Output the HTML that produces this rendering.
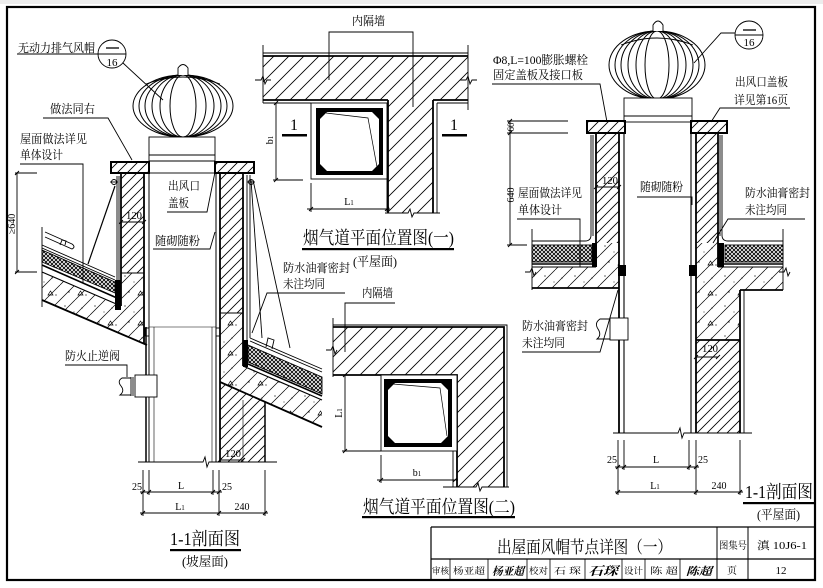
<!DOCTYPE html>
<html><head><meta charset="utf-8">
<style>
html,body{margin:0;padding:0;background:#fff;}
svg{display:block;}
text{font-family:"Liberation Serif","Noto Serif CJK SC","Noto Sans CJK SC",serif;fill:#000;}
</style></head><body>
<svg width="823" height="588" viewBox="0 0 823 588" xmlns="http://www.w3.org/2000/svg">
<defs>
<pattern id="h" width="10" height="10" patternUnits="userSpaceOnUse"><path d="M0,10L10,0M-2,2L2,-2M8,12L12,8" stroke="#000" stroke-width="0.85"/></pattern>
<pattern id="hp" width="15" height="15" patternUnits="userSpaceOnUse"><path d="M0,15L15,0M-2,2L2,-2M13,17L17,13" stroke="#000" stroke-width="0.85"/></pattern>
<pattern id="c" width="30" height="30" patternUnits="userSpaceOnUse"><path d="M0,15L15,0M0,30L30,0M15,30L30,15M-2,2L2,-2M28,32L32,28" stroke="#000" stroke-width="0.7"/><g fill="#000"><circle cx="5" cy="6" r="0.6"/><circle cx="22" cy="8" r="0.6"/><circle cx="9" cy="22" r="0.6"/><circle cx="26" cy="25" r="0.6"/><circle cx="14" cy="12" r="0.5"/></g><path d="M18,25l5,0l-2.5,-4z" fill="none" stroke="#000" stroke-width="0.7"/></pattern>
<pattern id="x" width="4" height="4" patternUnits="userSpaceOnUse"><path d="M0,0L4,4M4,0L0,4" stroke="#000" stroke-width="0.9"/></pattern>
</defs>

<rect x="0" y="0" width="823" height="4" fill="#ececec"/>
<!-- frame -->
<rect x="7" y="7" width="808" height="573" fill="none" stroke="#000" stroke-width="2.2"/>

<!-- ================= LEFT SECTION ================= -->
<g stroke="#000" fill="none" stroke-width="0.9">
<!-- globe -->
<g stroke-width="1">
<ellipse cx="183" cy="106" rx="50" ry="31"/>
<ellipse cx="183" cy="106" rx="44" ry="31"/>
<ellipse cx="183" cy="106" rx="38" ry="31"/>
<ellipse cx="183" cy="106" rx="31" ry="31"/>
<ellipse cx="183" cy="106" rx="23" ry="31"/>
<ellipse cx="183" cy="106" rx="13" ry="31"/>
</g>
<path d="M146,84 Q183,70 220,84"/>
<path d="M178,75 V68 Q183,61 188,68 V75" fill="#fff"/>
<rect x="149" y="137" width="66" height="36" fill="#fff"/>
<path d="M149,155H215M149,161H215"/>
<!-- plates -->
<rect x="111" y="162" width="38" height="11" fill="url(#h)" stroke-width="2"/>
<rect x="215" y="162" width="39" height="11" fill="url(#h)" stroke-width="2"/>
<!-- walls fills -->
<rect x="121" y="173" width="23" height="100" fill="url(#h)" stroke="none"/>
<polygon points="42,272 121,306 121,273 144,273 144,344 42,300" fill="url(#c)" stroke="none"/>
<rect x="220" y="173" width="23" height="140" fill="url(#h)" stroke="none"/>
<polygon points="220,313 243,313 243,366 322,400 322,427 220,382" fill="url(#c)" stroke="none"/>
<polygon points="220,382 265,402 265,462 220,462" fill="url(#h)" stroke="none"/>
<!-- wall outlines -->
<line x1="121" y1="173" x2="121" y2="306" stroke-width="1.8"/>
<line x1="144" y1="173" x2="144" y2="344" stroke-width="1.8"/>
<line x1="121" y1="273" x2="144" y2="273"/>
<line x1="42" y1="272" x2="121" y2="306" stroke-width="1.2"/>
<line x1="42" y1="300" x2="147" y2="345" stroke-width="1.8"/>
<line x1="220" y1="173" x2="220" y2="462" stroke-width="1.8"/>
<line x1="243" y1="173" x2="243" y2="366" stroke-width="1.8"/>
<line x1="220" y1="313" x2="243" y2="313"/>
<line x1="243" y1="366" x2="322" y2="400" stroke-width="1.2"/>
<line x1="220" y1="382" x2="322" y2="427" stroke-width="1.8"/>
<line x1="265" y1="402" x2="265" y2="462" stroke-width="1.5"/>
<line x1="243" y1="400" x2="243" y2="462" stroke-width="0.6"/>
<!-- left roof -->
<line x1="42" y1="227" x2="42" y2="307"/>
<path d="M45,232 L72,244 Q76,247 72,249 L45,237"/>
<path d="M60,245 l2,-5 l4,1 l-1,4"/>
<line x1="42" y1="245" x2="115" y2="277"/>
<line x1="42" y1="248" x2="115" y2="280"/>
<polygon points="42,250 115,282 115,293 42,262" fill="url(#x)"/>
<line x1="42" y1="265" x2="117" y2="298" stroke-width="1.6"/>
<rect x="115" y="280" width="6" height="30" fill="#000" stroke="none"/>
<path d="M117,176 V280"/>
<path d="M119,176 V281 Q119,287 113,285"/>
<circle cx="114" cy="182" r="2.5"/><path d="M110,182h8"/>
<circle cx="251" cy="182" r="2.5"/><path d="M247,182h8"/>
<line x1="115" y1="186" x2="88" y2="264" stroke-width="1.2"/>
<!-- right roof -->
<line x1="247" y1="175" x2="247" y2="340"/>
<line x1="250" y1="175" x2="250" y2="338"/>
<line x1="250" y1="338" x2="322" y2="369"/>
<line x1="250" y1="341" x2="322" y2="372"/>
<polygon points="248,345 322,377 322,394 248,362" fill="url(#x)"/>
<line x1="248" y1="364" x2="322" y2="396" stroke-width="1.6"/>
<rect x="243" y="340" width="5" height="27" fill="#000" stroke="none"/>
<path d="M266,347 l2,-9 l6,2 l-2,9"/>
<line x1="251" y1="180" x2="262" y2="338"/>
<line x1="253" y1="180" x2="290" y2="348"/>
<polyline points="345,293 267,293 252,333"/>
<!-- lower flue -->
<line x1="146" y1="327" x2="146" y2="462" stroke-width="1.5"/>
<line x1="149" y1="173" x2="149" y2="462" stroke-width="1"/>
<line x1="154" y1="327" x2="154" y2="462" stroke-width="0.6"/>
<line x1="212" y1="327" x2="212" y2="462" stroke-width="0.6"/>
<line x1="216" y1="173" x2="216" y2="462" stroke-width="1"/>
<line x1="149" y1="327" x2="216" y2="327" stroke-width="0.6"/>
<rect x="145" y="328" width="4" height="8"/>
<rect x="216" y="328" width="4" height="8"/>
<!-- damper -->
<rect x="135" y="375" width="22" height="22" fill="#fff"/>
<path d="M131,377 V396 M133,377 V396"/>
<path d="M131,378 H122 Q117,381 121,386 Q125,391 120,395 H131"/>
<!-- ground -->
<path d="M138,462 H203 L205,457 L207,467 L209,462 H277"/>
<!-- dims -->
<path d="M143,470V516M149,470V495M213,470V495M219,470V516M265,470V516"/>
<path d="M140,492H222M140,513H268"/>
<path d="M141,494l4,-4M147,494l4,-4M211,494l4,-4M217,494l4,-4M141,515l4,-4M217,515l4,-4M263,515l4,-4" stroke-width="1"/>
<path d="M121,222H144M119,224l4,-4M142,224l4,-4"/>
<path d="M220,460H243M218,462l4,-4M241,462l4,-4"/>
<path d="M17,173V272M15,173H37M15,272H37M15,175l4,-4M15,274l4,-4"/>
<!-- leaders -->
<path d="M17,54H98"/>
<circle cx="112" cy="54" r="14" fill="#fff"/>
<path d="M98,54H126"/>
<path d="M106,48H119" stroke-width="1.3"/>
<path d="M123,63 L163,100"/>
<path d="M43,118H108L132,160"/>
<path d="M20,164H83V283"/>
<path d="M167,212H207L215,172"/>
<path d="M153,249H210L215,232"/>
<path d="M65,365H127V377"/>
</g>
<g font-size="12">
<text x="18" y="52" textLength="77" lengthAdjust="spacingAndGlyphs">无动力排气风帽</text>
<text x="112" y="66" font-size="11" text-anchor="middle">16</text>
<text x="50" y="113" textLength="45" lengthAdjust="spacingAndGlyphs">做法同右</text>
<text x="20" y="143" textLength="67" lengthAdjust="spacingAndGlyphs">屋面做法详见</text>
<text x="20" y="159" textLength="43" lengthAdjust="spacingAndGlyphs">单体设计</text>
<text x="168" y="190" textLength="32" lengthAdjust="spacingAndGlyphs">出风口</text>
<text x="168" y="207" textLength="21" lengthAdjust="spacingAndGlyphs">盖板</text>
<text x="155" y="245" textLength="45" lengthAdjust="spacingAndGlyphs">随砌随粉</text>
<text x="65" y="360" textLength="55" lengthAdjust="spacingAndGlyphs">防火止逆阀</text>
<text x="283" y="272" textLength="67" lengthAdjust="spacingAndGlyphs">防水油膏密封</text>
<text x="283" y="288" textLength="42" lengthAdjust="spacingAndGlyphs">未注均同</text>
<text x="126" y="219" font-size="10" textLength="16" lengthAdjust="spacingAndGlyphs">120</text>
<text x="225" y="457" font-size="10" textLength="16" lengthAdjust="spacingAndGlyphs">120</text>
<text transform="translate(15,224) rotate(-90)" font-size="10" text-anchor="middle">≥640</text>
<text x="132" y="490" font-size="10">25</text>
<text x="181" y="489" font-size="10" text-anchor="middle">L</text>
<text x="222" y="490" font-size="10">25</text>
<text x="180" y="510" font-size="10" text-anchor="middle">L<tspan font-size="7">1</tspan></text>
<text x="242" y="510" font-size="10" text-anchor="middle">240</text>
<text x="170" y="545" font-size="18" textLength="70" lengthAdjust="spacingAndGlyphs">1-1剖面图</text>
<text x="182" y="566" font-size="13" textLength="46" lengthAdjust="spacingAndGlyphs">(坡屋面)</text>
</g>
<rect x="170" y="549" width="71" height="2.2" fill="#000"/>

<!-- ================= PLAN (一) ================= -->
<g stroke="#000" fill="none" stroke-width="0.9">
<polygon points="263,56 468,56 468,100 433,100 433,213 388,213 388,100 263,100" fill="url(#hp)" stroke="none"/>
<path d="M263,53H468"/>
<path d="M263,56H468M263,100H388M433,100H468M388,100V213M433,100V213" stroke-width="1.8"/>
<path d="M263,103H311M437,103H468M437,103V213"/>
<path d="M263,45V103M468,45V110"/>
<path d="M255,80H261L263,76L265,84L267,80H271"/>
<path d="M460,80H466L468,76L470,84L472,80H477"/>
<rect x="311" y="103" width="76" height="76" fill="#fff"/>
<rect x="316" y="108" width="67" height="67" fill="#000" stroke="none"/>
<polygon points="327,112 372,112 379,119 379,164 372,171 327,171 320,164 320,119" fill="#fff" stroke="none"/>
<polyline points="326,113 368,118 377,167" stroke-width="0.7"/>
<path d="M276,103V180M273,180H303M274,105l4,-4M274,182l4,-4"/>
<path d="M311,183V212M387,179V212M307,209H390M309,211l4,-4M385,211l4,-4"/>
<path d="M385,213H408L410,209L412,217L414,213H440"/>
<path d="M329,80V32H413V107"/>
</g>
<rect x="282" y="134" width="25" height="2.5" fill="#000"/>
<rect x="442" y="134" width="25" height="2.5" fill="#000"/>
<g>
<text x="294" y="130" font-size="16" text-anchor="middle">1</text>
<text x="454" y="130" font-size="16" text-anchor="middle">1</text>
<text x="352" y="25" font-size="12" textLength="33" lengthAdjust="spacingAndGlyphs">内隔墙</text>
<text transform="translate(273,140) rotate(-90)" font-size="10" text-anchor="middle">b<tspan font-size="7">1</tspan></text>
<text x="349" y="205" font-size="10" text-anchor="middle">L<tspan font-size="7">1</tspan></text>
<text x="303" y="244" font-size="18" textLength="151" lengthAdjust="spacingAndGlyphs">烟气道平面位置图(一)</text>
<text x="353" y="266" font-size="13" textLength="44" lengthAdjust="spacingAndGlyphs">(平屋面)</text>
</g>
<rect x="302" y="248" width="152" height="2.2" fill="#000"/>

<!-- ================= PLAN (二) ================= -->
<g stroke="#000" fill="none" stroke-width="0.9">
<polygon points="333,327 504,327 504,487 457,487 457,375 333,375" fill="url(#hp)" stroke="none"/>
<path d="M333,325H507V487"/>
<path d="M333,327H504V487M333,375H457V487" stroke-width="1.8"/>
<path d="M453,451V487"/>
<path d="M333,318V377M326,350H331L333,346L335,354L337,350"/>
<path d="M443,487H476L478,483L480,491L482,487H509"/>
<rect x="381" y="375" width="76" height="76" fill="#fff"/>
<rect x="384" y="379" width="68" height="68" fill="#000" stroke="none"/>
<polygon points="395,383 441,383 448,390 448,436 441,443 395,443 388,436 388,390" fill="#fff" stroke="none"/>
<polyline points="393,384 440,388 447,436" stroke-width="0.7"/>
<path d="M345,375V451M342,451H381M343,377l4,-4M343,453l4,-4"/>
<path d="M381,455V483M377,480H458M379,482l4,-4M453,482l4,-4"/>
<path d="M345,352V303H395"/>
</g>
<g>
<text x="362" y="297" font-size="12" textLength="31" lengthAdjust="spacingAndGlyphs">内隔墙</text>
<text transform="translate(342,413) rotate(-90)" font-size="10" text-anchor="middle">L<tspan font-size="7">1</tspan></text>
<text x="417" y="476" font-size="10" text-anchor="middle">b<tspan font-size="7">1</tspan></text>
<text x="363" y="513" font-size="18" textLength="152" lengthAdjust="spacingAndGlyphs">烟气道平面位置图(二)</text>
</g>
<rect x="362" y="516" width="153" height="2.2" fill="#000"/>

<!-- ================= RIGHT SECTION ================= -->
<g stroke="#000" fill="none" stroke-width="0.9">
<g stroke-width="1">
<ellipse cx="657" cy="65" rx="48" ry="34"/>
<ellipse cx="657" cy="65" rx="42" ry="34"/>
<ellipse cx="657" cy="65" rx="36" ry="34"/>
<ellipse cx="657" cy="65" rx="29" ry="34"/>
<ellipse cx="657" cy="65" rx="21" ry="34"/>
<ellipse cx="657" cy="65" rx="12" ry="34"/>
</g>
<path d="M621,45 Q657,31 693,45"/>
<path d="M653,31 V25 Q658,17 663,25 V31" fill="#fff"/>
<rect x="624" y="98" width="68" height="24" fill="#fff"/>
<path d="M624,116H692"/>
<rect x="587" y="121" width="38" height="12" fill="url(#h)" stroke-width="2"/>
<rect x="691" y="121" width="36" height="12" fill="url(#h)" stroke-width="2"/>
<rect x="596" y="133" width="23" height="110" fill="url(#h)" stroke="none"/>
<rect x="696" y="133" width="22" height="110" fill="url(#h)" stroke="none"/>
<polygon points="532,267 596,267 596,243 619,243 619,288 532,288" fill="url(#c)" stroke="none"/>
<polygon points="696,243 718,243 718,267 783,267 783,290 740,290 740,340 696,340" fill="url(#c)" stroke="none"/>
<rect x="696" y="340" width="44" height="93" fill="url(#h)" stroke="none"/>
<path d="M596,133V243M619,133V433M696,133V433M718,133V267" stroke-width="1.8"/>
<path d="M624,133V433M691,133V433" stroke-width="1.1"/>
<path d="M532,288H619M740,290H783M740,290V433M696,340H740" stroke-width="1.8"/>
<path d="M744,290V433M532,267H596M718,267H783"/>
<rect x="618" y="265" width="8" height="11" fill="#000" stroke="none"/>
<rect x="689" y="265" width="8" height="11" fill="#000" stroke="none"/>
<path d="M591,135V235Q591,241 585,241H532"/>
<path d="M593,135V236"/>
<path d="M722,135V235Q722,241 728,241H783"/>
<path d="M720,135V236"/>
<rect x="532" y="245" width="60" height="17" fill="url(#x)"/>
<rect x="725" y="245" width="58" height="17" fill="url(#x)"/>
<path d="M532,264H597M718,264H783" stroke-width="1.5"/>
<rect x="592" y="243" width="5" height="24" fill="#000" stroke="none"/>
<rect x="718" y="243" width="6" height="24" fill="#000" stroke="none"/>
<path d="M532,229V290M783,229V290"/>
<path d="M525,272H530L532,268L534,276L536,272"/>
<path d="M779,272H784L786,268L788,276L790,272"/>
<!-- damper -->
<rect x="610" y="318" width="18" height="22" fill="#fff"/>
<path d="M610,319H600Q594,323 598,329Q602,335 597,339H610"/>
<path d="M522,352H600L618,290"/>
<!-- ground -->
<path d="M613,433H678L680,428L682,438L684,433H752"/>
<!-- dims -->
<path d="M618,440V495M624,440V470M689,440V470M696,440V495M740,440V495"/>
<path d="M615,467H699M615,492H743"/>
<path d="M616,469l4,-4M622,469l4,-4M687,469l4,-4M694,469l4,-4M616,494l4,-4M694,494l4,-4M738,494l4,-4" stroke-width="1"/>
<path d="M596,187H619M594,189l4,-4M617,189l4,-4"/>
<path d="M696,357H718M694,359l4,-4M716,359l4,-4"/>
<path d="M510,121V245M507,121H568M507,133H568M507,245H527M508,123l4,-4M508,135l4,-4M508,247l4,-4"/>
<!-- leaders -->
<path d="M492,84H600L607,122"/>
<path d="M790,108H720L711,122"/>
<circle cx="749" cy="35" r="14" fill="#fff"/>
<path d="M735,35H763"/>
<path d="M743,30H756" stroke-width="1.3"/>
<path d="M735,33H721L694,63"/>
<path d="M637,197H692V205"/>
<path d="M517,219H580V267"/>
<path d="M805,219H728L713,243"/>
</g>
<g font-size="12">
<text x="493" y="64" textLength="95" lengthAdjust="spacingAndGlyphs">Φ8,L=100膨胀螺栓</text>
<text x="493" y="79" textLength="90" lengthAdjust="spacingAndGlyphs">固定盖板及接口板</text>
<text x="735" y="86" textLength="53" lengthAdjust="spacingAndGlyphs">出风口盖板</text>
<text x="734" y="104" textLength="54" lengthAdjust="spacingAndGlyphs">详见第16页</text>
<text x="749" y="46" font-size="11" text-anchor="middle">16</text>
<text x="640" y="191" textLength="43" lengthAdjust="spacingAndGlyphs">随砌随粉</text>
<text x="518" y="197" textLength="64" lengthAdjust="spacingAndGlyphs">屋面做法详见</text>
<text x="518" y="214" textLength="44" lengthAdjust="spacingAndGlyphs">单体设计</text>
<text x="745" y="197" textLength="65" lengthAdjust="spacingAndGlyphs">防水油膏密封</text>
<text x="745" y="214" textLength="42" lengthAdjust="spacingAndGlyphs">未注均同</text>
<text x="522" y="330" textLength="66" lengthAdjust="spacingAndGlyphs">防水油膏密封</text>
<text x="522" y="347" textLength="43" lengthAdjust="spacingAndGlyphs">未注均同</text>
<text x="602" y="184" font-size="10" textLength="16" lengthAdjust="spacingAndGlyphs">120</text>
<text x="702" y="352" font-size="10" textLength="16" lengthAdjust="spacingAndGlyphs">120</text>
<text transform="translate(514,127) rotate(-90)" font-size="9" text-anchor="middle">60</text>
<text transform="translate(514,195) rotate(-90)" font-size="10" text-anchor="middle">640</text>
<text x="607" y="463" font-size="10">25</text>
<text x="656" y="463" font-size="10" text-anchor="middle">L</text>
<text x="698" y="463" font-size="10">25</text>
<text x="655" y="489" font-size="10" text-anchor="middle">L<tspan font-size="7">1</tspan></text>
<text x="719" y="489" font-size="10" text-anchor="middle">240</text>
<text x="745" y="498" font-size="18" textLength="68" lengthAdjust="spacingAndGlyphs">1-1剖面图</text>
<text x="757" y="519" font-size="13" textLength="43" lengthAdjust="spacingAndGlyphs">(平屋面)</text>
</g>
<rect x="743" y="502" width="72" height="2.2" fill="#000"/>

<!-- ================= TITLE BLOCK ================= -->
<g stroke="#000" fill="none">
<path d="M431,527H815M431,527V580M431,559H815" stroke-width="1.2"/>
<path d="M717,527V580M748,527V580" stroke-width="1"/>
<path d="M450,559V580M488,559V580M527,559V580M550,559V580M585,559V580M622,559V580M645,559V580M680,559V580" stroke-width="0.8"/>
</g>
<g>
<text x="497" y="553" font-size="17" textLength="175" lengthAdjust="spacingAndGlyphs">出屋面风帽节点详图（一）</text>
<text x="719" y="549" font-size="10" textLength="28" lengthAdjust="spacingAndGlyphs">图集号</text>
<text x="757" y="549" font-size="11" textLength="50" lengthAdjust="spacingAndGlyphs">滇 10J6-1</text>
<text x="432" y="574" font-size="9" textLength="17" lengthAdjust="spacingAndGlyphs">审核</text>
<text x="453" y="574" font-size="9" textLength="32" lengthAdjust="spacingAndGlyphs">杨亚超</text>
<text x="492" y="575" font-size="11" font-style="italic" font-weight="bold" textLength="32" lengthAdjust="spacingAndGlyphs">杨亚超</text>
<text x="529" y="574" font-size="9" textLength="19" lengthAdjust="spacingAndGlyphs">校对</text>
<text x="554" y="574" font-size="9" textLength="27" lengthAdjust="spacingAndGlyphs">石 琛</text>
<text x="588" y="575" font-size="12" font-style="italic" font-weight="bold" textLength="30" lengthAdjust="spacingAndGlyphs">石琛</text>
<text x="624" y="574" font-size="9" textLength="19" lengthAdjust="spacingAndGlyphs">设计</text>
<text x="650" y="574" font-size="9" textLength="28" lengthAdjust="spacingAndGlyphs">陈 超</text>
<text x="686" y="575" font-size="11" font-style="italic" font-weight="bold" textLength="26" lengthAdjust="spacingAndGlyphs">陈超</text>
<text x="732" y="574" font-size="10" text-anchor="middle">页</text>
<text x="781" y="574" font-size="11" text-anchor="middle">12</text>
</g>
</svg>
</body></html>
